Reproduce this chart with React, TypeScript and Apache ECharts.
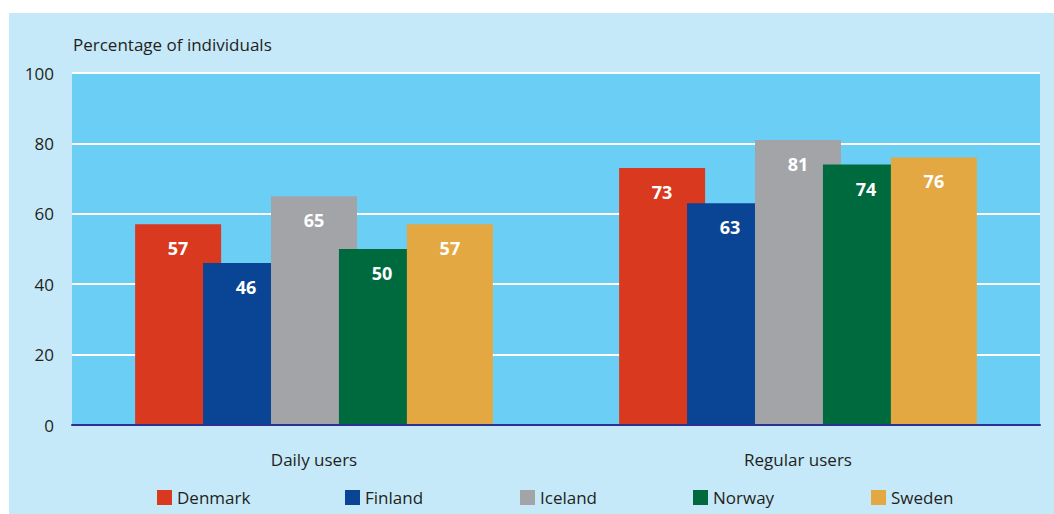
import React, { useEffect, useRef } from "react";
import * as echarts from "echarts";

const categories = ["Daily users", "Regular users"];
const countries = ["Denmark", "Finland", "Iceland", "Norway", "Sweden"];
const denmark = [57, 73];
const finland = [46, 63];
const iceland = [65, 81];
const norway = [50, 74];
const sweden = [57, 76];
const colors = ["#d9391f", "#0a4595", "#a3a4a8", "#006a3f", "#e4a843"];
const legendLeft = [157, 345, 520, 693, 871];

const FONT = "'Open Sans', sans-serif";

export default function App() {
  const ref = useRef<HTMLDivElement>(null);
  useEffect(() => {
    if (!ref.current) return;
    const chart = echarts.init(ref.current, null, { renderer: "svg" });
    const values = [denmark, finland, iceland, norway, sweden];
    chart.setOption({
      animation: false,
      backgroundColor: "#ffffff",
      textStyle: { fontFamily: FONT },
      graphic: [
        {
          type: "rect",
          z: -10,
          silent: true,
          shape: { x: 9, y: 13, width: 1045, height: 501 },
          style: { fill: "#c6e9f9" },
        },
        {
          type: "text",
          left: 73,
          top: 36,
          style: {
            text: "Percentage of individuals",
            fontFamily: FONT,
            fontSize: 17,
            fill: "#231f20",
          },
        },
      ],
      grid: {
        left: 72,
        right: 14,
        top: 73,
        bottom: 89,
        show: true,
        backgroundColor: "#6bcef5",
        borderWidth: 0,
      },
      legend: countries.map((c, i) => ({
        data: [c],
        left: legendLeft[i],
        top: 489,
        itemWidth: 15,
        itemHeight: 15,
        itemGap: 5,
        icon: "rect",
        textStyle: { fontFamily: FONT, fontSize: 17, color: "#231f20", padding: [0, 0, 0, 0] },
        padding: 0,
        selectedMode: false,
      })),
      xAxis: {
        type: "category",
        data: categories,
        axisLine: { show: true, lineStyle: { color: "#2e3192", width: 2 } },
        axisTick: { show: false },
        axisLabel: { fontFamily: FONT, fontSize: 17, color: "#231f20", margin: 26 },
        z: 10,
      },
      yAxis: {
        type: "value",
        min: 0,
        max: 100,
        interval: 20,
        axisLine: { show: false },
        axisTick: { show: false },
        axisLabel: { fontFamily: FONT, fontSize: 17, color: "#231f20", margin: 18 },
        splitLine: { show: true, lineStyle: { color: "#ffffff", width: 2 } },
      },
      series: countries.map((c, i) => ({
        name: c,
        type: "bar",
        data: values[i],
        barWidth: 86,
        barGap: "-21%",
        itemStyle: { color: colors[i] },
        label: {
          show: true,
          position: "insideTop",
          distance: 15,
          color: "#ffffff",
          fontFamily: FONT,
          fontWeight: "bold",
          fontSize: 18,
        },
      })),
    });
    return () => chart.dispose();
  }, []);
  return (
    <div
      ref={ref}
      style={{ position: "absolute", left: 0, top: 0, width: 1054, height: 514 }}
    />
  );
}
